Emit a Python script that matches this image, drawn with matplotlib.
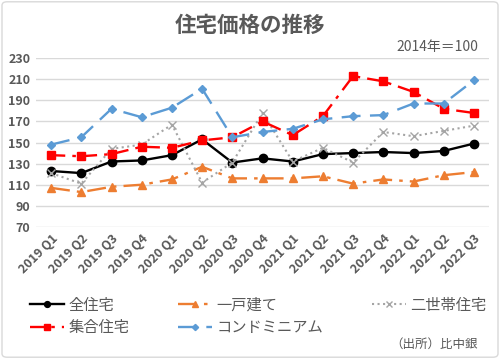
import matplotlib
matplotlib.use('Agg')
import matplotlib.pyplot as plt
from matplotlib.patches import FancyBboxPatch

plt.rcParams['font.family'] = ['Noto Sans CJK JP', 'DejaVu Sans']

# 四半期ラベル（元図のまま）
quarters = ['2019 Q1', '2019 Q2', '2019 Q3', '2019 Q4',
            '2020 Q1', '2020 Q2', '2020 Q3', '2020 Q4',
            '2021 Q1', '2021 Q2', '2021 Q3', '2022 Q4',
            '2022 Q1', '2022 Q2', '2022 Q3']

all_housing = [123, 121, 132, 133, 138, 153, 131, 135, 132, 139, 140, 141, 140, 142, 149]
detached = [107, 103, 108, 110, 115, 127, 116, 116, 116, 118, 111, 115, 113, 119, 122]
two_gen = [121, 111, 144, 148, 167, 112, 131, 178, 132, 145, 131, 160, 156, 161, 166]
apartment = [138, 137, 139, 146, 145, 152, 155, 170, 157, 175, 213, 208, 198, 182, 178]
condo = [148, 155, 182, 174, 183, 201, 155, 160, 163, 172, 175, 176, 187, 187, 209]

text_gray = '#595959'

fig = plt.figure(figsize=(5, 3.59), dpi=100)
ax = fig.add_axes([0.072, 0.368, 0.906, 0.470])

x = list(range(len(quarters)))
l1, = ax.plot(x, all_housing, color='black', lw=1.7, marker='o', ms=6, label='全住宅')
l2, = ax.plot(x, detached, color='#ED7D31', lw=1.7, marker='^', ms=6,
              dashes=(8, 3, 1.5, 3), label='一戸建て')
l3, = ax.plot(x, two_gen, color='#A5A5A5', lw=1.5, marker='x', ms=6, mew=1,
              ls=':', label='二世帯住宅')
l4, = ax.plot(x, apartment, color='#FF0000', lw=1.7, marker='s', ms=6,
              dashes=(6, 3, 1.5, 3), label='集合住宅')
l5, = ax.plot(x, condo, color='#5B9BD5', lw=1.7, marker='D', ms=4.5,
              dashes=(8, 4), label='コンドミニアム')

ax.set_ylim(70, 230)
ax.set_yticks(range(70, 231, 20))
ax.set_xlim(-0.5, len(quarters) - 0.5)
ax.set_xticks(x)
ax.set_xticklabels(quarters, rotation=45, ha='right', rotation_mode='anchor')
ax.tick_params(length=0, labelsize=9, labelcolor=text_gray, pad=4)
for lab in ax.get_xticklabels() + ax.get_yticklabels():
    lab.set_fontweight('bold')
ax.grid(axis='y', color='#D9D9D9', lw=1)
ax.set_axisbelow(True)
for s in ax.spines.values():
    s.set_visible(False)

fig.text(0.5, 0.93, '住宅価格の推移', ha='center', va='center', fontsize=15.5,
         fontweight='bold', color=text_gray)
fig.text(0.956, 0.868, '2014年＝100', ha='right', va='center', fontsize=10,
         color=text_gray)
fig.text(0.956, 0.04, '（出所）比中銀', ha='right', va='center', fontsize=9,
         color=text_gray)

handles = [l1, l4, l2, l5, l3]
fig.legend(handles, [h.get_label() for h in handles], ncol=3,
           loc='upper left', bbox_to_anchor=(0.045, 0.195), frameon=False,
           fontsize=11, labelcolor=text_gray, handlelength=2.2,
           handletextpad=0.3, columnspacing=3.2, borderpad=0,
           labelspacing=0.35, markerscale=0.7)

fig.patches.append(FancyBboxPatch((0.004, 0.005), 0.992, 0.99,
                                  boxstyle='round,pad=0,rounding_size=0.01',
                                  transform=fig.transFigure, fill=False,
                                  ec='#D9D9D9', lw=1))

fig.savefig('out.png', dpi=100)
